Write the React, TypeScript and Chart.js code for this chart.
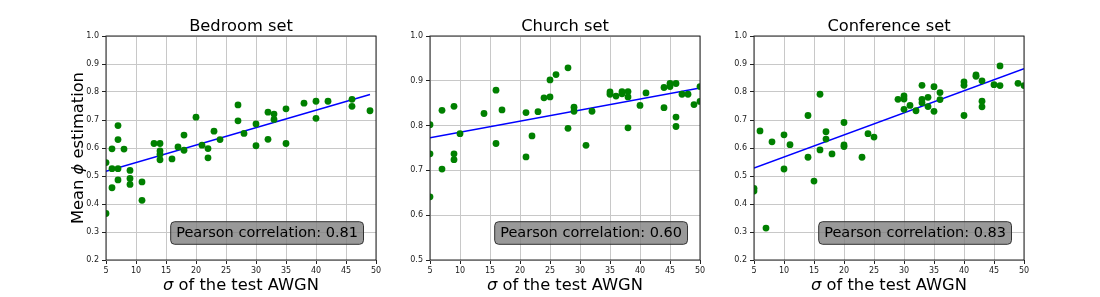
import React, { useEffect, useRef } from "react";
import { Chart, registerables } from "chart.js";

Chart.register(...registerables);

const panelTitles = ["Bedroom set", "Church set", "Conference set"];
const pearsonValues = ["0.81", "0.60", "0.83"];
const xTickMin = 5;
const xTickMax = 50;
const yMins = [0.2, 0.5, 0.2];
const yMax = 1.0;

const bedroomSigma = [5, 5, 6, 6, 6, 7, 7, 7, 7, 8, 9, 9, 9, 11, 11, 13, 14, 14, 14, 14, 16, 17, 18, 18, 20, 21, 22, 22, 23, 24, 27, 27, 28, 30, 30, 32, 32, 33, 33, 35, 35, 38, 40, 40, 42, 46, 46, 49];
const bedroomPhi = [0.548, 0.366, 0.597, 0.526, 0.458, 0.68, 0.63, 0.526, 0.486, 0.596, 0.52, 0.491, 0.47, 0.479, 0.413, 0.616, 0.616, 0.59, 0.578, 0.558, 0.561, 0.604, 0.646, 0.592, 0.71, 0.61, 0.598, 0.565, 0.66, 0.63, 0.754, 0.697, 0.652, 0.686, 0.608, 0.728, 0.631, 0.721, 0.702, 0.74, 0.616, 0.76, 0.767, 0.706, 0.767, 0.774, 0.749, 0.733];
const bedroomFitX = [5, 49];
const bedroomFitY = [0.517, 0.791];

const churchSigma = [5, 5, 5, 7, 7, 9, 9, 9, 10, 14, 16, 16, 17, 21, 21, 22, 23, 24, 25, 25, 26, 28, 28, 29, 29, 31, 32, 35, 35, 36, 37, 37, 38, 38, 38, 40, 41, 44, 44, 45, 45, 46, 46, 46, 47, 48, 49, 50, 50];
const churchPhi = [0.802, 0.737, 0.641, 0.834, 0.703, 0.843, 0.737, 0.724, 0.782, 0.827, 0.879, 0.76, 0.835, 0.829, 0.73, 0.777, 0.831, 0.862, 0.902, 0.864, 0.914, 0.929, 0.794, 0.841, 0.832, 0.756, 0.832, 0.875, 0.87, 0.866, 0.876, 0.871, 0.876, 0.864, 0.795, 0.845, 0.873, 0.885, 0.84, 0.894, 0.887, 0.894, 0.819, 0.798, 0.87, 0.87, 0.847, 0.887, 0.854];
const churchFitX = [5, 50];
const churchFitY = [0.773, 0.884];

const conferenceSigma = [5, 5, 6, 7, 8, 10, 10, 11, 14, 14, 15, 16, 16, 17, 17, 18, 20, 20, 20, 23, 24, 25, 29, 30, 30, 30, 31, 32, 33, 33, 33, 34, 34, 35, 35, 36, 36, 40, 40, 40, 42, 42, 43, 43, 43, 45, 46, 46, 49, 50];
const conferencePhi = [0.456, 0.446, 0.661, 0.314, 0.622, 0.647, 0.525, 0.612, 0.716, 0.567, 0.482, 0.792, 0.593, 0.658, 0.632, 0.579, 0.691, 0.611, 0.605, 0.567, 0.651, 0.639, 0.774, 0.786, 0.775, 0.738, 0.752, 0.733, 0.824, 0.774, 0.762, 0.781, 0.748, 0.819, 0.731, 0.798, 0.773, 0.836, 0.824, 0.716, 0.861, 0.856, 0.84, 0.767, 0.747, 0.826, 0.893, 0.823, 0.831, 0.823];
const conferenceFitX = [5, 50];
const conferenceFitY = [0.528, 0.883];

const panelSigma = [bedroomSigma, churchSigma, conferenceSigma];
const panelPhi = [bedroomPhi, churchPhi, conferencePhi];
const panelFitX = [bedroomFitX, churchFitX, conferenceFitX];
const panelFitY = [bedroomFitY, churchFitY, conferenceFitY];

const FONT = '"DejaVu Sans", sans-serif';
const PLOT_LEFTS = [106, 430, 754];
const AXIS_W = 100;
const PLOT_W = 270;
const PAD_R = 10;
const CANVAS_W = AXIS_W + PLOT_W + PAD_R;
const CANVAS_H = 297;

function zip(xs: number[], ys: number[]) {
  return xs.map((x, i) => ({ x, y: ys[i] }));
}

function Panel({ idx }: { idx: number }) {
  const ref = useRef<HTMLCanvasElement | null>(null);
  useEffect(() => {
    if (!ref.current) return;
    const decor = {
      id: "decor",
      afterDraw(chart: any) {
        const { ctx, chartArea } = chart;
        const { left, right, top, bottom } = chartArea;
        const cx = (left + right) / 2;
        ctx.save();
        ctx.strokeStyle = "#222";
        ctx.lineWidth = 1;
        ctx.strokeRect(left, top, right - left, bottom - top);
        ctx.fillStyle = "#000";
        ctx.font = `16.3px ${FONT}`;
        ctx.textAlign = "center";
        ctx.textBaseline = "alphabetic";
        ctx.fillText(panelTitles[idx], cx, 31);
        const italicFont = `italic 16.3px ${FONT}`;
        const normalFont = `16.3px ${FONT}`;
        ctx.font = italicFont;
        const sw = ctx.measureText("σ").width;
        ctx.font = normalFont;
        const rest = " of the test AWGN";
        const rw = ctx.measureText(rest).width;
        const sx = cx - (sw + rw) / 2;
        ctx.textAlign = "left";
        ctx.font = italicFont;
        ctx.fillText("σ", sx, 290);
        ctx.font = normalFont;
        ctx.fillText(rest, sx + sw, 290);
        if (idx === 0) {
          const a = "Mean ";
          const b = "ϕ";
          const c = " estimation";
          ctx.font = normalFont;
          const aw = ctx.measureText(a).width;
          const cw = ctx.measureText(c).width;
          ctx.font = italicFont;
          const bw = ctx.measureText(b).width;
          const total = aw + bw + cw;
          ctx.translate(73, (top + bottom) / 2);
          ctx.rotate(-Math.PI / 2);
          ctx.textBaseline = "middle";
          let px = -total / 2;
          ctx.font = normalFont;
          ctx.fillText(a, px, 0);
          px += aw;
          ctx.font = italicFont;
          ctx.fillText(b, px, 0);
          px += bw;
          ctx.font = normalFont;
          ctx.fillText(c, px, 0);
          ctx.setTransform(1, 0, 0, 1, 0, 0);
        }
        const label = `Pearson correlation: ${pearsonValues[idx]}`;
        ctx.font = `14.5px ${FONT}`;
        const tw = ctx.measureText(label).width;
        const bwid = tw + 11;
        const bh = 22.6;
        const bx = right - 12.5 - bwid;
        const by = bottom - 15.7 - bh;
        ctx.beginPath();
        ctx.roundRect(bx, by, bwid, bh, 4);
        ctx.fillStyle = "rgba(128,128,128,0.8)";
        ctx.fill();
        ctx.strokeStyle = "#333";
        ctx.lineWidth = 1;
        ctx.stroke();
        ctx.fillStyle = "#000";
        ctx.textAlign = "center";
        ctx.textBaseline = "middle";
        ctx.fillText(label, bx + bwid / 2, by + bh / 2 + 0.5);
        ctx.restore();
      },
    };
    const chart = new Chart(ref.current, {
      type: "scatter",
      data: {
        datasets: [
          {
            data: zip(panelSigma[idx], panelPhi[idx]),
            backgroundColor: "#008000",
            borderColor: "#008000",
            pointRadius: 3.4,
            pointBorderWidth: 0,
            showLine: false,
            clip: 0,
          } as any,
          {
            data: zip(panelFitX[idx], panelFitY[idx]),
            borderColor: "#0000ff",
            borderWidth: 1.5,
            pointRadius: 0,
            showLine: true,
            clip: 0,
          } as any,
        ],
      },
      plugins: [decor],
      options: {
        responsive: false,
        animation: false,
        devicePixelRatio: 1,
        layout: { padding: { top: 36, left: 0, right: PAD_R, bottom: 0 } },
        plugins: { legend: { display: false }, tooltip: { enabled: false }, title: { display: false } },
        scales: {
          x: {
            type: "linear",
            min: xTickMin,
            max: xTickMax,
            afterFit: (s: any) => {
              s.height = 37;
            },
            border: { display: false },
            grid: { color: "#c8c8c8", lineWidth: 1, tickColor: "#222", tickLength: 4 },
            ticks: {
              stepSize: 5,
              padding: 2,
              color: "#1a1a1a",
              font: { family: FONT, size: 8 },
              maxRotation: 0,
              autoSkip: false,
            },
          },
          y: {
            type: "linear",
            min: yMins[idx],
            max: yMax,
            afterFit: (s: any) => {
              s.width = AXIS_W;
            },
            border: { display: false },
            grid: { color: "#c8c8c8", lineWidth: 1, tickColor: "#222", tickLength: 4 },
            ticks: {
              stepSize: 0.1,
              padding: 3,
              color: "#1a1a1a",
              font: { family: FONT, size: 8 },
              autoSkip: false,
              callback: (v: any) => Number(v).toFixed(1),
            },
          },
        },
      },
    });
    return () => chart.destroy();
  }, [idx]);
  return (
    <canvas
      ref={ref}
      width={CANVAS_W}
      height={CANVAS_H}
      style={{ position: "absolute", left: PLOT_LEFTS[idx] - AXIS_W, top: 0, width: CANVAS_W, height: CANVAS_H }}
    />
  );
}

export default function App() {
  return (
    <div style={{ position: "absolute", left: 0, top: 0, width: 1100, height: 297, background: "#fff", overflow: "hidden" }}>
      {[0, 1, 2].map((i) => (
        <Panel key={i} idx={i} />
      ))}
    </div>
  );
}
